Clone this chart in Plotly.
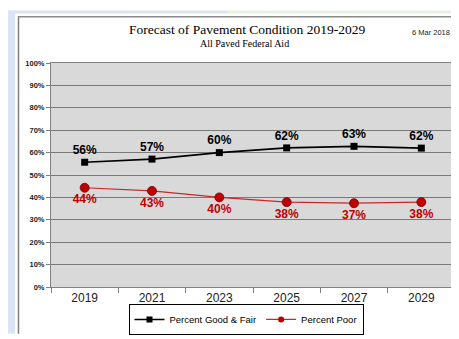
import plotly.graph_objects as go

years = ["2019", "2021", "2023", "2025", "2027", "2029"]
good_fair = [55.7, 57.1, 60.0, 62.1, 62.8, 62.0]
poor = [44.3, 42.9, 40.0, 37.9, 37.4, 37.9]
y_ticks = [0, 10, 20, 30, 40, 50, 60, 70, 80, 90, 100]
y_tick_labels = [f"{v}%" for v in y_ticks]

W, H = 459, 339
L, R, T, B = 43, 447, 55, 290


def px(x):
    return (x - L) / (R - L)


def py(y):
    return (B - y) / (B - T)


fig = go.Figure()
fig.add_trace(go.Scatter(
    x=years, y=good_fair, name="Percent Good & Fair", mode="lines+markers+text",
    line=dict(color="black", width=1.6),
    marker=dict(symbol="square", size=7, color="black"),
    texttemplate="%{y:.0f}%", textposition="top center",
    textfont=dict(family="Arial", size=12, color="black", weight="bold"),
    showlegend=False,
))
fig.add_trace(go.Scatter(
    x=years, y=poor, name="Percent Poor", mode="lines+markers+text",
    line=dict(color="#c8282a", width=1.2),
    marker=dict(symbol="circle", size=9, color="#c00000", line=dict(color="#7a0000", width=0.8)),
    texttemplate="%{y:.0f}%", textposition="bottom center",
    textfont=dict(family="Arial", size=12, color="#c00000", weight="bold"),
    showlegend=False,
))
# legend entries (smaller glyphs, like the reference legend)
fig.add_trace(go.Scatter(
    x=[None], y=[None], name="Percent Good & Fair", mode="lines+markers",
    line=dict(color="black", width=1.5), marker=dict(symbol="square", size=6, color="black"),
))
fig.add_trace(go.Scatter(
    x=[None], y=[None], name="Percent Poor", mode="lines+markers",
    line=dict(color="#c8282a", width=1.2), marker=dict(symbol="circle", size=6, color="#c00000"),
))

shapes = [
    dict(type="rect", xref="paper", yref="paper", x0=px(0), x1=px(7), y0=py(339), y1=py(0),
         fillcolor="#dbe4f3", line=dict(width=0), layer="below"),
    dict(type="rect", xref="paper", yref="paper", x0=px(0), x1=px(220), y0=py(3), y1=py(0),
         fillcolor="#dbe4f3", line=dict(width=0), layer="below"),
    dict(type="rect", xref="paper", yref="paper", x0=px(220), x1=px(459), y0=py(3), y1=py(0),
         fillcolor="#e6f1df", line=dict(width=0), layer="below"),
    dict(type="line", xref="paper", yref="paper", x0=px(10.5), x1=px(10.5), y0=py(339), y1=py(6),
         line=dict(color="#7f7f7f", width=1.5)),
    dict(type="line", xref="paper", yref="paper", x0=px(10), x1=px(459), y0=py(6.5), y1=py(6.5),
         line=dict(color="#8a8a8a", width=1.5)),
]

annotations = [
    dict(text="Forecast of Pavement Condition 2019-2029", xref="paper", yref="paper",
         x=px(239), y=py(20), showarrow=False, xanchor="center", yanchor="middle",
         font=dict(family="Liberation Serif", size=13.5, color="black")),
    dict(text="All Paved Federal Aid", xref="paper", yref="paper",
         x=px(236), y=py(35), showarrow=False, xanchor="center", yanchor="middle",
         font=dict(family="Liberation Serif", size=10, color="black")),
    dict(text="6 Mar 2018", xref="paper", yref="paper",
         x=px(444), y=py(23), showarrow=False, xanchor="right", yanchor="middle",
         font=dict(family="Arial", size=7.5, color="#222")),
]

fig.update_layout(
    width=W, height=H,
    margin=dict(l=L, r=W - R, t=T, b=H - B),
    paper_bgcolor="white", plot_bgcolor="#d9d9d9",
    showlegend=True,
    legend=dict(orientation="h", x=px(238), y=py(324), xanchor="center", yanchor="middle",
                bordercolor="black", borderwidth=1, bgcolor="white",
                font=dict(family="Arial", size=9.5, color="black"),
                itemwidth=30, tracegroupgap=0),
    shapes=shapes, annotations=annotations,
    xaxis=dict(type="category", range=[-0.5, 5.5], tickson="boundaries", ticks="outside",
               ticklen=5, tickcolor="#808080", showgrid=False, showline=True,
               linecolor="#808080", linewidth=1, mirror=True,
               tickfont=dict(family="Arial", size=12, color="#222")),
    yaxis=dict(range=[0, 100], tickvals=y_ticks, ticktext=y_tick_labels, ticks="outside",
               ticklen=4, tickcolor="#808080", showgrid=True, gridcolor="#7a7a7a", gridwidth=1,
               showline=True, linecolor="#808080", linewidth=1, mirror=True, zeroline=False,
               tickfont=dict(family="Arial", size=7.5, color="#222", weight="bold")),
)

fig.write_html("out.html")
